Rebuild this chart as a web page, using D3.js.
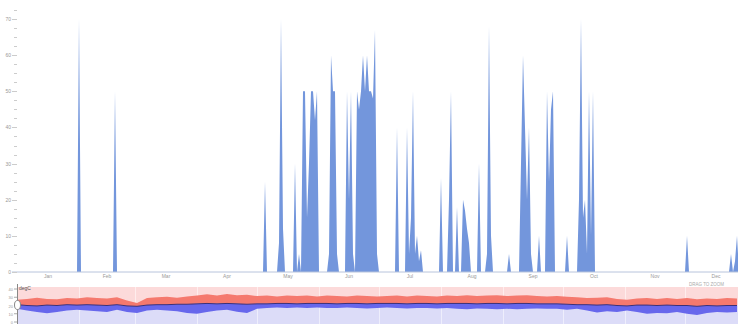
<!DOCTYPE html>
<html lang="en">
<head>
<meta charset="UTF-8">
<title>Rain and temperature</title>
<script src="https://d3js.org/d3.v7.min.js"></script>
<style>
  body { margin: 0; background: #fff; overflow: hidden; }
  text { font-family: "Liberation Sans", Arial, sans-serif; }
</style>
</head>
<body>
<div id="chart"></div>
<script>
// daily rain (mm), day-of-year index (0 = 1 Jan) -> amount; other days are dry
var rainDay = [31, 49, 124, 131, 132, 133, 139, 141,
  143, 144, 145, 146, 147, 148, 149, 150,
  156, 157, 158, 159, 160, 165, 166, 167, 168,
  170, 171, 172, 173, 174, 175, 176, 177, 178, 179, 180,
  190, 195, 196, 197, 198, 199, 200, 201, 202,
  212, 216, 217, 220, 223, 224, 225, 226, 231, 235, 236, 237, 246,
  252, 253, 254, 255, 256, 257, 261, 265, 266, 267, 268, 275,
  281, 282, 283, 284, 285, 286, 287, 288, 335, 357, 359, 360];
var rainMm = [70, 50, 25, 8, 70, 12, 30, 5,
  50, 50, 15, 30, 50, 50, 42, 50,
  5, 60, 50, 50, 5, 50, 20, 50, 5,
  50, 45, 50, 60, 50, 60, 50, 50, 48, 67, 5,
  40, 40, 5, 15, 50, 5, 10, 3, 6,
  26, 20, 50, 18, 20, 17, 12, 8, 30, 5, 68, 10, 5,
  30, 60, 40, 20, 40, 5, 10, 50, 25, 45, 50, 10,
  20, 70, 15, 20, 5, 50, 10, 50, 10, 5, 3, 10];

// temperature (degC) every 5 days
var tempDay = d3.range(0, 361, 5);
var tMax = [27, 28, 29.5, 28, 27.5, 29, 28.5, 30, 29, 28.5, 30, 26, 23, 29, 30,
  30.5, 29.5, 31, 32, 33.5, 32, 34, 32.5, 33, 31.5, 32, 31, 32, 31.5, 32,
  31, 32, 31.5, 31, 32, 31.5, 31, 31.5, 32, 31, 32, 31.5, 31, 32, 31.5,
  32.5, 31.5, 32, 32.5, 31.5, 32, 32.5, 31.5, 31, 31.5, 30.5, 30, 29, 29.5, 30,
  28, 27, 28.5, 29, 28, 29, 28, 29, 27.5, 28.5, 28, 29, 28.5];
var tMean = [21, 20, 19.5, 20.5, 20, 21, 20.5, 21, 20.5, 20, 21, 19.5, 19, 20.5, 21,
  21, 21.5, 21.5, 22, 22.5, 22, 22.5, 22, 21.5, 22, 22, 22.5, 22.5, 22, 22.5,
  22.5, 22.5, 22, 22.5, 22.5, 22, 22.5, 22.5, 22.5, 22, 22.5, 22.5, 22, 22.5, 22.5,
  22.5, 22, 22.5, 22.5, 22, 22.5, 22.5, 22, 22, 22, 21.5, 21, 21, 20.5, 21,
  20, 19.5, 20.5, 20.5, 20, 20.5, 20, 20, 19, 20, 19.5, 20, 20];
var tMin = [16, 14, 12, 10.5, 12, 14, 15, 14, 13, 12, 15, 12, 11, 14, 15,
  14, 13, 11, 10, 12, 14, 15, 12.5, 11, 16, 17, 17.5, 17, 17.5, 17,
  17.5, 17, 17, 17.5, 17, 16.5, 17, 17.5, 17, 16.5, 17, 17, 16.5, 17, 16,
  15.5, 16.5, 16, 15.5, 16, 15.5, 16, 16.5, 16, 16, 15, 16, 14, 11.5, 13,
  12, 14, 12, 10, 11, 10.5, 12, 10, 8.5, 11, 12, 11.5, 12];

var months = ["Jan", "Feb", "Mar", "Apr", "May", "Jun", "Jul", "Aug", "Sep", "Oct", "Nov", "Dec"];
var rainTicks = [0, 10, 20, 30, 40, 50, 60, 70];
var tempTicks = [0, 10, 20, 30, 40];

var W = 738, H = 324;
var year0 = new Date(2014, 0, 1);
function dayDate(d) { return d3.timeDay.offset(year0, d); }

// build the daily rain series
var rainByDay = new Map(rainDay.map(function(d, i) { return [d, rainMm[i]]; }));
var rain = d3.range(0, 365).map(function(d) {
  return { date: dayDate(d), v: rainByDay.get(d) || 0 };
});
var temps = tempDay.map(function(d, i) {
  return { date: dayDate(d), max: tMax[i], mean: tMean[i], min: tMin[i] };
});

var svg = d3.select("#chart").append("svg")
  .attr("width", W).attr("height", H);

var x = d3.scaleTime()
  .domain([year0, new Date(2015, 0, 1)])
  .range([17, 747]);

// ---- rain chart
var y = d3.scaleLinear().domain([0, 72.5]).range([272, 10]);

svg.append("path")
  .datum(rain)
  .attr("fill", "#7396dc")
  .attr("d", d3.area()
    .x(function(d) { return x(d.date); })
    .y0(y(0))
    .y1(function(d) { return y(d.v); }));

// baseline
svg.append("line")
  .attr("x1", 12).attr("x2", W)
  .attr("y1", y(0)).attr("y2", y(0))
  .attr("stroke", "#b8c4dc").attr("stroke-width", 1);

// y ticks, major and minor
var minor = d3.range(0, 72.6, 2.5);
svg.append("g").selectAll("line")
  .data(minor).enter().append("line")
  .attr("x1", function(d) { return d % 10 === 0 ? 12 : 14; })
  .attr("x2", 17)
  .attr("y1", function(d) { return Math.round(y(d)) + 0.5; })
  .attr("y2", function(d) { return Math.round(y(d)) + 0.5; })
  .attr("stroke", "#ccc");

svg.append("g").selectAll("text")
  .data(rainTicks).enter().append("text")
  .attr("x", 11).attr("y", function(d) { return y(d) + 2; })
  .attr("text-anchor", "end")
  .style("font-size", "5px").attr("fill", "#999")
  .text(function(d) { return d; });

// month labels, centred in the month
svg.append("g").selectAll("text")
  .data(months).enter().append("text")
  .attr("x", function(d, i) {
    return (x(new Date(2014, i, 1)) + x(new Date(2014, i + 1, 1))) / 2;
  })
  .attr("y", 278)
  .attr("text-anchor", "middle")
  .style("font-size", "5px").attr("fill", "#999")
  .text(function(d) { return d; });

// ---- temperature chart
var yT = d3.scaleLinear().domain([0, 40]).range([322, 289]);
var top2 = 287;

svg.append("rect")
  .attr("x", 17).attr("y", top2).attr("width", W - 17).attr("height", yT(20) - top2)
  .attr("fill", "#fcdada");
svg.append("rect")
  .attr("x", 17).attr("y", yT(20)).attr("width", W - 17).attr("height", H - yT(20))
  .attr("fill", "#dcdcf8");

// month grid
svg.append("g").selectAll("line")
  .data(d3.range(1, 12)).enter().append("line")
  .attr("x1", function(d) { return Math.round(x(new Date(2014, d, 1))) + 0.5; })
  .attr("x2", function(d) { return Math.round(x(new Date(2014, d, 1))) + 0.5; })
  .attr("y1", top2).attr("y2", H)
  .attr("stroke", "#fff").attr("stroke-opacity", 0.5);

svg.append("path")
  .datum(temps)
  .attr("fill", "#f5796e")
  .attr("d", d3.area()
    .x(function(d) { return x(d.date); })
    .y0(function(d) { return yT(d.mean); })
    .y1(function(d) { return yT(d.max); }));

svg.append("path")
  .datum(temps)
  .attr("fill", "#6767ec")
  .attr("d", d3.area()
    .x(function(d) { return x(d.date); })
    .y0(function(d) { return yT(d.min); })
    .y1(function(d) { return yT(d.mean); }));

svg.append("path")
  .datum(temps)
  .attr("fill", "none").attr("stroke", "#3b2f78").attr("stroke-width", 1)
  .attr("d", d3.line()
    .x(function(d) { return x(d.date); })
    .y(function(d) { return yT(d.mean); }));

// left axis of the temperature chart
svg.append("line")
  .attr("x1", 17.5).attr("x2", 17.5).attr("y1", 284).attr("y2", H)
  .attr("stroke", "#888");
svg.append("g").selectAll("text")
  .data(tempTicks).enter().append("text")
  .attr("x", 13).attr("y", function(d) { return yT(d) + 2; })
  .attr("text-anchor", "end")
  .style("font-size", "4px").attr("fill", "#999")
  .text(function(d) { return d; });
svg.append("g").selectAll("line")
  .data(tempTicks).enter().append("line")
  .attr("x1", 14).attr("x2", 17)
  .attr("y1", function(d) { return yT(d); }).attr("y2", function(d) { return yT(d); })
  .attr("stroke", "#aaa");

svg.append("text")
  .attr("x", 19).attr("y", 290)
  .style("font-size", "5px").attr("fill", "#555")
  .text("degC");

svg.append("text")
  .attr("x", 689).attr("y", 286)
  .style("font-size", "4.5px").attr("fill", "#aaa")
  .text("DRAG TO ZOOM");

// brush handle
svg.append("ellipse")
  .attr("cx", 17.5).attr("cy", 305).attr("rx", 3).attr("ry", 4.5)
  .attr("fill", "#fff").attr("stroke", "#888").attr("stroke-width", 1);
</script>
</body>
</html>
